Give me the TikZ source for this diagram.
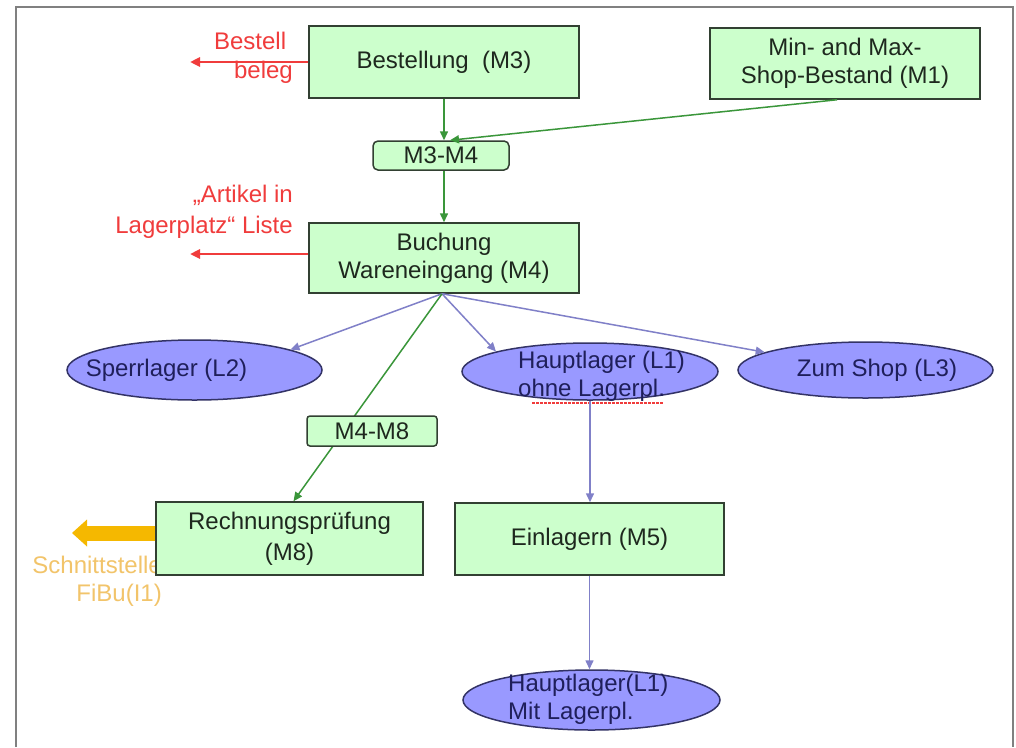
\documentclass[tikz,border=0pt]{standalone}
\usepackage{fontspec}
\setmainfont{Liberation Sans}
\usetikzlibrary{shapes.geometric,arrows.meta}
\definecolor{boxfill}{RGB}{204,255,204}
\definecolor{boxdraw}{RGB}{50,64,50}
\definecolor{boxtext}{RGB}{30,40,30}
\definecolor{ellfill}{RGB}{153,153,255}
\definecolor{elldraw}{RGB}{51,51,102}
\definecolor{elltext}{RGB}{31,31,90}
\definecolor{bluec}{RGB}{128,128,200}
\definecolor{greenc}{RGB}{58,150,58}
\definecolor{redc}{RGB}{240,60,60}
\definecolor{orangec}{RGB}{245,184,0}
\definecolor{orangetext}{RGB}{242,196,106}
\definecolor{framec}{RGB}{128,128,128}
\begin{document}
\begin{tikzpicture}[x=1pt,y=-1pt,
  font=\fontsize{24}{28}\selectfont,
  box/.style={draw=boxdraw, fill=boxfill, line width=1.5pt, text=boxtext, align=center, inner sep=0pt},
  tagbox/.style={box, rounded corners=5pt},
  ell/.style={ellipse, draw=elldraw, fill=ellfill, line width=1.5pt, inner sep=0pt},
  elltxt/.style={text=elltext, align=left, inner sep=0pt},
  bluearrow/.style={draw=bluec, line width=1.5pt, -{Triangle[length=9pt,width=8pt]}},
  greenarrow/.style={draw=greenc, line width=1.5pt, -{Triangle[length=9pt,width=8pt]}},
  redarrow/.style={draw=redc, line width=2.5pt, -{Triangle[length=10pt,width=9pt]}},
  redlabel/.style={text=redc, align=right, inner sep=0pt, anchor=east},
]
\useasboundingbox (0,0) rectangle (1016,747);
\fill[white] (0,0) rectangle (1016,747);
\draw[framec, line width=2pt] (16,747) -- (16,6.5) -- (1013,6.5) -- (1013,747);

% boxes
\node[box, minimum width=270pt, minimum height=72pt] (m3) at (444,62) {Bestellung\ \ (M3)};
\node[box, minimum width=270pt, minimum height=71pt] (m1) at (845,63.5) {Min- and Max-\\Shop-Bestand (M1)};
\node[tagbox, minimum width=136pt, minimum height=29pt] (m34) at (441,155.5) {M3-M4};
\node[box, minimum width=270pt, minimum height=70pt] (m4) at (444,258) {Buchung\\Wareneingang (M4)};
\node[box, minimum width=269pt, minimum height=72pt] (m5) at (589.5,539) {Einlagern (M5)};

% orange label (partly behind M8)
\node[text=orangetext, align=right, anchor=east, inner sep=0pt] (fibu) at (162,581) {Schnittstelle\\FiBu(I1)};
\node[box, minimum width=267pt, minimum height=73pt, font=\fontsize{24}{31}\selectfont] (m8) at (289.5,538.5) {Rechnungsprüfung\\(M8)};

% ellipses
\node[ell, minimum width=255pt, minimum height=60pt] (l2) at (194.5,370) {};
\node[elltxt] (l2t) at (166.5,370) {Sperrlager (L2)};
\node[ell, minimum width=256pt, minimum height=57pt] (l1a) at (590,371.5) {};
\node[elltxt, anchor=west] (l1at) at (518,376) {Hauptlager (L1)\\ohne Lagerpl.};
\node[ell, minimum width=255pt, minimum height=56pt] (l3) at (865.5,370) {};
\node[elltxt] (l3t) at (877,370) {Zum Shop (L3)};
\node[ell, minimum width=257pt, minimum height=60pt] (l1b) at (591.5,700) {};
\node[elltxt, anchor=west] (l1bt) at (508,699) {Hauptlager(L1)\\Mit Lagerpl.};
\draw[redc, line width=1.2pt, dash pattern=on 3pt off 1pt] (532,403) -- (663,403);

% green flow
\draw[greenarrow] (m3.south) -- (m3.south |- m34.north);
\draw[greenarrow] ([xshift=-8pt]m1.south) -- ([xshift=9pt]m34.north);
\draw[greenarrow] (m34.south -| m3.south) -- (m4.north);

% from M4
\coordinate (m4s) at ([xshift=-2pt]m4.south);
\draw[bluearrow] (m4s) -- (l2.12);
\draw[bluearrow] (m4s) -- (l1a.168);
\draw[bluearrow] (m4s) -- (l3.170);
\draw[greenarrow] (m4s) -- ([xshift=4pt]m8.north);
\node[tagbox, rounded corners=3pt, minimum width=130pt, minimum height=30pt] (m48) at (372,431) {M4-M8};

\draw[bluearrow] (l1a.south) -- (l1a.south |- m5.north);
\draw[bluearrow] (m5.south) -- (m5.south |- l1b.north);

% red outputs
\coordinate (redend1) at (190,62);
\draw[redarrow] (m3.west) -- (redend1);
\node[redlabel, font=\fontsize{24}{29}\selectfont] (lab1) at (293,57.5) {Bestell\hspace*{6.7pt}\\beleg};
\coordinate (redend2) at (190,254);
\draw[redarrow] ([yshift=4pt]m4.west) -- (redend2);
\node[redlabel, font=\fontsize{24}{31}\selectfont] (lab2) at (293,211.5) {„Artikel in\\Lagerplatz“ Liste};

% orange interface arrow
\coordinate (orend) at (72,533);
\draw[orangec, line width=15pt, -{Triangle[length=15pt,width=27pt,line width=0pt]}] ([yshift=5.5pt]m8.west) -- (orend);
\end{tikzpicture}
\end{document}
